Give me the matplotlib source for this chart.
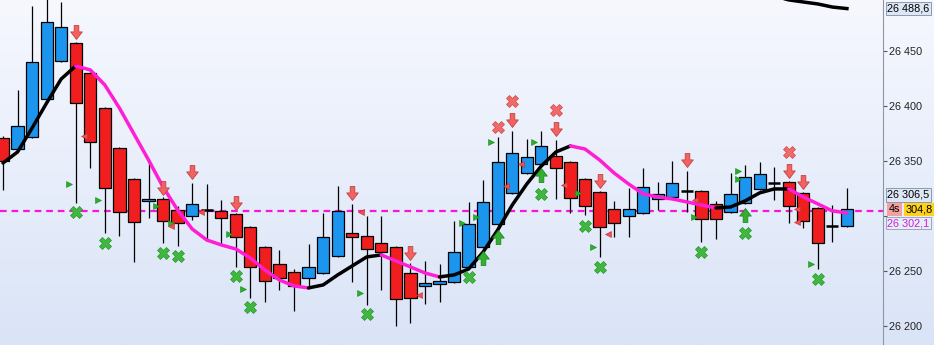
import numpy as np
import matplotlib.pyplot as plt
from matplotlib.path import Path
from matplotlib.colors import LinearSegmentedColormap
from matplotlib.ticker import FuncFormatter

plt.rcParams["font.family"] = ["Liberation Sans", "DejaVu Sans"]

# OHLC, one candle per bar
opens = [26371, 26361, 26372, 26406, 26441, 26457, 26430, 26398, 26362, 26334,
         26314, 26315.5, 26305.5, 26300, 26305.5, 26304.5, 26302, 26290, 26272, 26256.4,
         26249, 26243.7, 26248, 26263.7, 26284.6, 26282, 26275.5, 26272, 26248, 26236.4,
         26238.2, 26240, 26253.7, 26272, 26292.8, 26321, 26339, 26347.3, 26354.6, 26349.1,
         26334, 26321.8, 26306.4, 26300, 26302.8, 26315.5, 26317.3, 26322.7, 26322.7, 26311,
         26303.7, 26311.8, 26324.6, 26330, 26330.9, 26320.9, 26307.3, 26291, 26291]
closes = [26350, 26382, 26440, 26476, 26472, 26403, 26367, 26325.5, 26304, 26294.6,
          26315.5, 26295.5, 26293.7, 26311, 26305.5, 26298, 26281, 26253.7, 26241, 26243.7,
          26236.4, 26253.7, 26281, 26304.5, 26281, 26270, 26267.3, 26224.6, 26225.5, 26239.1,
          26241, 26267.3, 26292.8, 26312.8, 26349.1, 26357.3, 26353.7, 26363.7, 26343.7, 26316.4,
          26309.1, 26290, 26293.7, 26306.4, 26326.4, 26320, 26330, 26322.7, 26297.3, 26297.3,
          26320, 26335.5, 26338.2, 26330, 26309.1, 26295.5, 26275.5, 26291, 26306.4]
highs = [26373, 26414.6, 26491, 26505, 26494.6, 26458, 26431, 26399, 26363, 26335,
         26352, 26317, 26309, 26330, 26329, 26314.6, 26303, 26291, 26273, 26269,
         26251.8, 26274.6, 26302.8, 26327.3, 26311, 26300, 26300, 26273, 26257.3, 26259,
         26256.4, 26295.5, 26312.8, 26332.8, 26371.9, 26377.3, 26370, 26377.3, 26369.1, 26350,
         26335, 26323, 26313.7, 26325.5, 26343.7, 26331, 26350, 26340.9, 26323.5, 26313.7,
         26339.1, 26346.4, 26349.1, 26344.6, 26331.5, 26321.5, 26308, 26310, 26325.5]
lows = [26324, 26360, 26371, 26405, 26440, 26312, 26344, 26284.6, 26282, 26258,
        26298, 26275.5, 26272.8, 26296.4, 26278, 26273.7, 26253.7, 26225.5, 26222, 26232.8,
        26213.7, 26234.6, 26247, 26263, 26240, 26219, 26232.8, 26200, 26202.8, 26220,
        26222, 26239, 26253, 26271, 26292, 26320, 26338, 26346, 26315.5, 26302.8,
        26301, 26262.8, 26281, 26281, 26302, 26305.5, 26316, 26303.7, 26276.4, 26279.1,
        26303, 26311, 26324, 26314.6, 26293.7, 26289.1, 26251.8, 26276.4, 26290]

# moving average (black rising, magenta falling)
ma = [26348.2, 26358.2, 26380.0, 26402.8, 26424.6, 26436.4, 26432.8, 26419.1, 26398.2, 26374.6,
      26351.0, 26326.4, 26305.5, 26288.2, 26278.2, 26273.7, 26270.0, 26261.8, 26250.9, 26241.8,
      26236.4, 26234.6, 26237.3, 26246.4, 26254.6, 26262.8, 26264.6, 26259.1, 26253.7, 26248.2,
      26244.6, 26246.4, 26251.8, 26267.3, 26287.3, 26310.0, 26329.1, 26345.5, 26358.2, 26363.7,
      26360.9, 26351.0, 26339.1, 26329.1, 26320.0, 26317.3, 26315.5, 26312.8, 26310.0, 26307.3,
      26308.2, 26313.7, 26321.0, 26324.6, 26324.6, 26317.3, 26311.0, 26304.6, 26302.8]

# slow average entering at the top right
slow_idx = [53, 54, 55, 56, 57, 58]
slow_ma = [26500, 26496.5, 26494.6, 26492.8, 26490, 26488.6]

# signals
sell_arrow_idx = [5, 11, 13, 16, 24, 28, 35, 38, 41, 47, 54, 55]
sell_arrow_y = [26467.3, 26325.5, 26340, 26311.8, 26321, 26266.4, 26387.3, 26379.1,
                26331.8, 26350.9, 26340.9, 26331]
sell_x_idx = [34, 35, 38, 54]
sell_x_y = [26380.9, 26404.6, 26396.4, 26358.2]
buy_x_idx = [5, 7, 11, 12, 16, 17, 25, 32, 37, 40, 41, 48, 51, 56]
buy_x_y = [26303.7, 26275.5, 26266.4, 26263.7, 26245.5, 26217.3, 26211, 26244.6,
           26320, 26291, 26253.7, 26267.3, 26284.6, 26242.7]
buy_arrow_idx = [33, 34, 37, 51]
buy_arrow_y = [26261.8, 26281, 26337.3, 26301]
green_tri_idx = [5, 7, 11, 12, 16, 17, 25, 32, 33, 34, 37, 40, 41, 48, 51, 51, 56]
green_tri_y = [26329.1, 26314.6, 26309.1, 26293.7, 26283.6, 26233.7, 26230, 26293.7,
               26299.1, 26367.3, 26367.3, 26320.9, 26271.8, 26299.1, 26340.9, 26333.7, 26256.4]
red_tri_idx = [6, 12, 14, 25, 29, 35, 36, 39, 42, 48, 55, 55]
red_tri_y = [26372.8, 26291, 26303.7, 26303.7, 26228.2, 26327.3, 26347.3, 26328.2,
             26283.6, 26314.6, 26306.4, 26294.6]

level = 26304.8
last_price = 26306.5
ma_last = 26302.1
slow_last = 26488.6
y_ticks = [26200, 26250, 26300, 26350, 26400, 26450]
hidden_tick = 26300  # covered by the price boxes

W, H = 934, 345
fig = plt.figure(figsize=(W / 100, H / 100), dpi=100)

bg = fig.add_axes([0, 0, 1, 1], zorder=-10)
grad = np.linspace(0, 1, 256).reshape(-1, 1)
cmap = LinearSegmentedColormap.from_list("bg", ["#f6f8fe", "#dae4f7"])
bg.imshow(grad, aspect="auto", cmap=cmap, extent=[0, 1, 0, 1])
bg.axis("off")

ax = fig.add_axes([0, 0, 883 / W, 1])
ax.set_facecolor("none")

n = len(opens)
x = np.arange(n)
o, c = np.array(opens), np.array(closes)
hi, lo = np.array(highs), np.array(lows)
up = c > o
down = c < o
doji = c == o
bw = 0.84

ax.vlines(x, lo, hi, color="black", lw=0.9, zorder=2)
ax.bar(x[up], (c - o)[up], bottom=o[up], width=bw, color="#1c95ee",
       edgecolor="black", lw=0.9, zorder=3)
ax.bar(x[down], (o - c)[down], bottom=c[down], width=bw, color="#f01e1e",
       edgecolor="black", lw=0.9, zorder=3)
ax.hlines(c[doji], x[doji] - bw / 2, x[doji] + bw / 2, color="black", lw=1.8, zorder=3)

# moving average, coloured by direction
ma_arr = np.array(ma)
rising = np.diff(ma_arr) >= 0
start = 0
for k in range(1, len(rising) + 1):
    if k == len(rising) or rising[k] != rising[start]:
        seg = slice(start, k + 1)
        ax.plot(x[seg], ma_arr[seg], color="black" if rising[start] else "#ff1ed6",
                lw=2.5, solid_capstyle="round", zorder=4)
        start = k
ax.plot(slow_idx, slow_ma, color="black", lw=2.5, zorder=4)

ax.axhline(level, color="#f516d6", lw=1.6, ls=(0, (3, 2.2)), zorder=1.5)

down_verts = [(-0.2, 0.6), (0.2, 0.6), (0.2, 0.05), (0.5, 0.05), (0, -0.6),
              (-0.5, 0.05), (-0.2, 0.05), (-0.2, 0.6)]
down_arrow = Path(down_verts, closed=True)
up_arrow = Path([(vx, -vy) for vx, vy in down_verts], closed=True)

ax.plot(sell_arrow_idx, sell_arrow_y, ls="none", marker=down_arrow, ms=10,
        mfc="#f26262", mec="#c84040", mew=0.6, zorder=5)
ax.plot(buy_arrow_idx, buy_arrow_y, ls="none", marker=up_arrow, ms=10,
        mfc="#32b032", mec="#208a20", mew=0.6, zorder=5)
ax.plot(sell_x_idx, sell_x_y, ls="none", marker="X", ms=8.5,
        mfc="#f06a6a", mec="#d04848", mew=0.5, zorder=5)
ax.plot(buy_x_idx, buy_x_y, ls="none", marker="X", ms=8.5,
        mfc="#3fb83f", mec="#2a942a", mew=0.5, zorder=5)
ax.plot(np.array(green_tri_idx) - 0.48, green_tri_y, ls="none", marker=">", ms=4.5,
        mfc="#28b028", mec="#1c8a1c", mew=0.4, zorder=5)
ax.plot(np.array(red_tri_idx) - 0.42, red_tri_y, ls="none", marker="<", ms=4.5,
        mfc="#ec5050", mec="#c03030", mew=0.4, zorder=5)

ax.set_xlim(-0.206, 60.48)
ax.set_ylim(26182.7, 26496.4)

for s in ["top", "left", "bottom"]:
    ax.spines[s].set_visible(False)
ax.spines["right"].set_color("#8c96a4")
ax.set_xticks([])
ax.yaxis.tick_right()
ax.set_yticks(y_ticks)


def price_fmt(v, pos):
    if v == hidden_tick:
        return ""
    return f"{int(v) // 1000} {int(v) % 1000:03d}"


ax.yaxis.set_major_formatter(FuncFormatter(price_fmt))
ax.tick_params(axis="y", direction="out", length=3, width=0.8, color="#555555",
               pad=1, labelsize=7.8, labelcolor="#222222")

ytr = ax.get_yaxis_transform()
box = dict(boxstyle="square,pad=0.15", fc="#dde6f5", ec="#8c9ab0", lw=0.7)
ax.annotate("26 488,6", xy=(1, slow_last), xycoords=ytr, xytext=(3, 0),
            textcoords="offset points", va="center", fontsize=7.8, bbox=box,
            annotation_clip=False)
ax.annotate("26 302,1", xy=(1, ma_last), xycoords=ytr, xytext=(3, -7),
            textcoords="offset points", va="center", fontsize=7.8, color="#d020d0",
            bbox=dict(boxstyle="square,pad=0.1", fc="#e6ecf8", ec="#9aa6bb", lw=0.7),
            annotation_clip=False)
ax.annotate("26 306,5", xy=(1, last_price), xycoords=ytr, xytext=(3, 10),
            textcoords="offset points", va="center", fontsize=7.8, bbox=box,
            annotation_clip=False)
ax.annotate("4s", xy=(1, level), xycoords=ytr, xytext=(4, 1),
            textcoords="offset points", va="center", fontsize=7.8,
            bbox=dict(boxstyle="square,pad=0.15", fc="#f4a0a0", ec="none"),
            annotation_clip=False)
ax.annotate("304,8", xy=(1, level), xycoords=ytr, xytext=(16, 1),
            textcoords="offset points", va="center", fontsize=7.8,
            bbox=dict(boxstyle="square,pad=0.15", fc="#ffd21a", ec="none"),
            annotation_clip=False)

fig.savefig("out.png", dpi=100)
